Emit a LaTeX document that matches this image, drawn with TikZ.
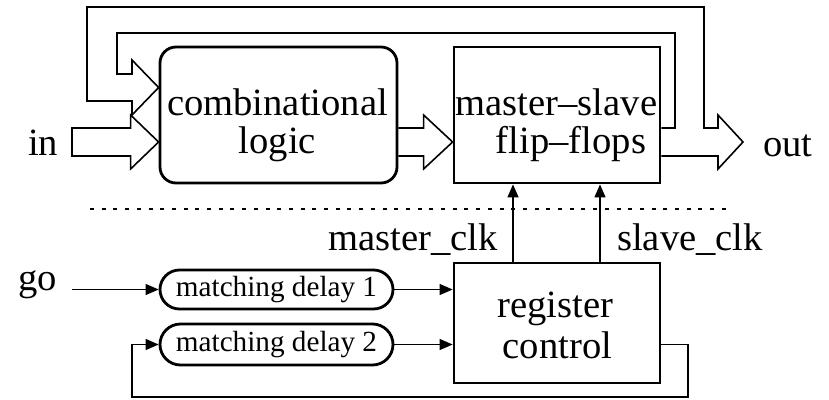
\documentclass[tikz,border=0pt]{standalone}
\usepackage{fontspec}
\setmainfont{Liberation Serif}
\usetikzlibrary{arrows.meta,calc}

\begin{document}
\begin{tikzpicture}[x=1pt,y=-1pt,
  big/.style={font=\fontsize{38.6}{40}\selectfont, inner sep=0pt},
  small/.style={font=\fontsize{29.2}{30}\selectfont},
  block/.style={draw, line width=2.8pt, inner sep=0pt},
  delaybox/.style={block, minimum width=233pt, inner sep=0pt, small},
  conn/.style={line width=1.3pt, -{Triangle[length=13pt,width=11pt]}},
  wire/.style={line width=1.3pt},
  fat/.style={line width=1.6pt, line join=miter},
  sep/.style={line width=1.3pt, dash pattern=on 4pt off 7.7pt}
]
\useasboundingbox (0,0) rectangle (829,399);

% blocks
\node[block, rounded corners=16pt, minimum width=237pt, minimum height=136pt] (cl) at (278.5,115) {};
\node[block, minimum width=206pt, minimum height=136pt] (ff) at (557,115) {};
\node[block, minimum width=206pt, minimum height=120pt] (rc) at (557,323) {};
\node[delaybox, minimum height=39pt, rounded corners=19.5pt] (d1) at (276.5,289.5) {matching delay 1};
\node[delaybox, minimum height=41pt, rounded corners=20.5pt] (d2) at (276.5,344.5) {matching delay 2};

% block texts
\node[big, anchor=base] (cl1) at (277.5,115) {combinational};
\node[big, anchor=base] (cl2) at (277.5,153) {logic};
\node[big, anchor=base] (ff1) at (556.5,115) {master--slave};
\node[big, anchor=base] (ff2) at (571,153) {flip--flops};
\node[big, anchor=base] (rc1) at (555.5,317) {register};
\node[big, anchor=base] (rc2) at (557.5,358) {control};

% terminal labels
\node[big, anchor=base west] (inlbl) at (28,155) {in};
\node[big, anchor=base west] (outlbl) at (763,156) {out};
\node[big, anchor=base west] (golbl) at (18,290) {go};
\node[big, anchor=base east] (mlbl) at (498,250) {master\_clk};
\node[big, anchor=base west] (slbl) at (617,250) {slave\_clk};

% helper coordinates
\coordinate (row) at (0,142);
\coordinate (inStart) at (72,142);
\coordinate (outTip) at (743,142);
\coordinate (goStart) at (72,289.5);
\coordinate (mx) at (513,0);
\coordinate (sx) at (600,0);
\coordinate (fbR) at (688,397);
\coordinate (fbL) at (132,397);

% wide data arrows
\draw[fat] let \p1=(inStart), \p2=(cl.west |- row) in
  (\x1,\y1+14pt) -- (\x2-28pt,\y1+14pt) -- (\x2-28pt,\y1+27pt) -- (\x2,\y1)
  -- (\x2-28pt,\y1-27pt) -- (\x2-28pt,\y1-14pt) -- (\x1,\y1-14pt) -- cycle;
\draw[fat] let \p1=(cl.east |- row), \p2=(ff.west |- row) in
  (\x1,\y1+14pt) -- (\x2-29pt,\y1+14pt) -- (\x2-29pt,\y1+27pt) -- (\x2,\y1)
  -- (\x2-29pt,\y1-27pt) -- (\x2-29pt,\y1-14pt) -- (\x1,\y1-14pt);

% output arrow together with the two feedback paths
\draw[fat] (ff.east |- 0,156) -- (718,156) -- (718,169) -- (outTip) -- (718,115)
  -- (718,128) -- (704,128) -- (704,7) -- (87,7) -- (87,101) -- (132,101)
  -- (132,115) -- (cl.west |- 0,87.5) -- (132,60) -- (132,74) -- (117,74)
  -- (117,33) -- (675,33) -- (675,128) -- (ff.east |- 0,128);

% separator
\draw[sep] (90,209) -- (728,209);

% clocks
\draw[conn] (rc.north -| mx) -- (ff.south -| mx);
\draw[conn] (rc.north -| sx) -- (ff.south -| sx);

% control path
\draw[conn] (goStart) -- (d1.west);
\draw[conn] (d1.east) -- (d1.east -| rc.west);
\draw[conn] (d2.east) -- (d2.east -| rc.west);
\draw[conn] (rc.east |- d2.east) -| (fbR) -- (fbL) |- (d2.west);
\end{tikzpicture}
\end{document}
